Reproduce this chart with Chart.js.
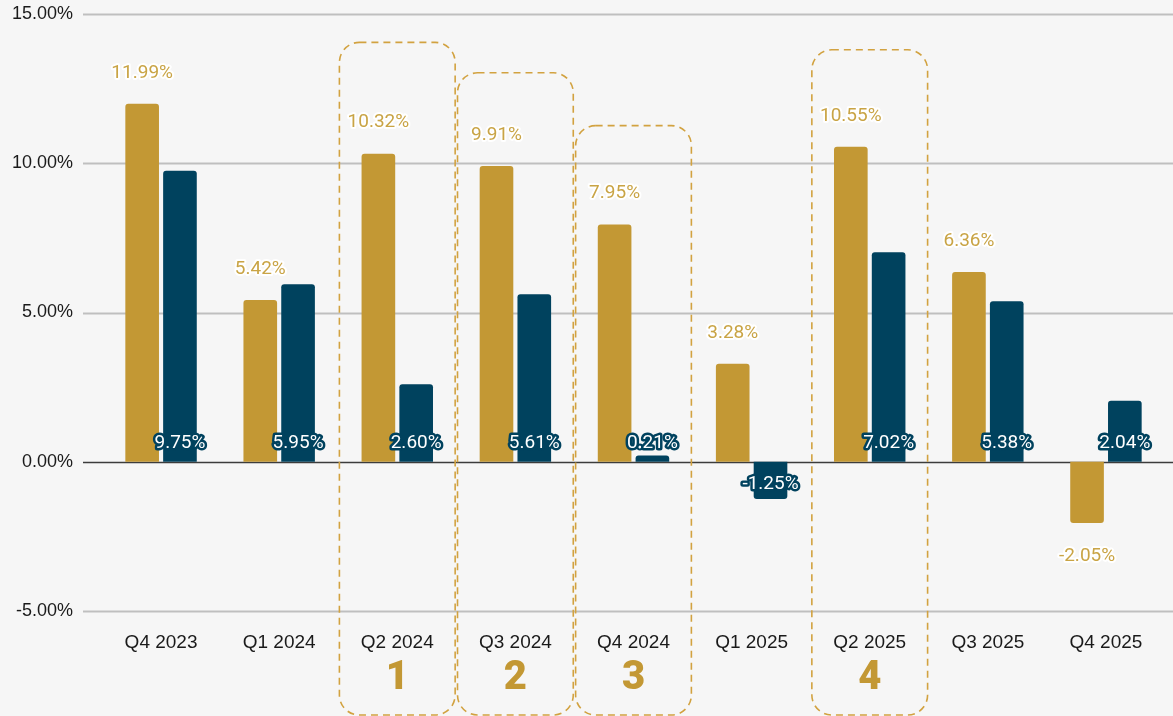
<!DOCTYPE html>
<html>
<head>
<meta charset="utf-8">
<script src="https://cdn.jsdelivr.net/npm/chart.js@4.4.1/dist/chart.umd.min.js"></script>
<style>
  html, body { margin: 0; padding: 0; background: #f6f6f6; }
  #wrap { width: 1173px; height: 716px; }
</style>
</head>
<body>
<div id="wrap"><canvas id="chart" width="1173" height="716"></canvas></div>
<script>
// Data
const quarters = ['Q4 2023', 'Q1 2024', 'Q2 2024', 'Q3 2024', 'Q4 2024', 'Q1 2025', 'Q2 2025', 'Q3 2025', 'Q4 2025'];
const goldValues = [11.99, 5.42, 10.32, 9.91, 7.95, 3.28, 10.55, 6.36, -2.05];
const navyValues = [9.75, 5.95, 2.60, 5.61, 0.21, -1.25, 7.02, 5.38, 2.04];
const yTicks = [-5, 0, 5, 10, 15];

// highlighted quarters: index, number shown, top of dashed box (in % on the y scale)
const highlightIndex = [2, 3, 4, 6];
const highlightNumber = ['1', '2', '3', '4'];
const highlightTop = [14.05, 13.03, 11.26, 13.8];

const GOLD = '#c39834';
const NAVY = '#00425e';
const BOX = '#d2a240';

// background, gridlines and dashed boxes under the bars
const backdrop = {
    id: 'backdrop',
    beforeDraw(chart) {
        const ctx = chart.ctx;
        ctx.save();
        ctx.fillStyle = '#f6f6f6';
        ctx.fillRect(0, 0, chart.width, chart.height);
        ctx.restore();
    },
    beforeDatasetsDraw(chart) {
        const ctx = chart.ctx;
        const y = chart.scales.y;
        const x = chart.scales.x;
        ctx.save();
        yTicks.forEach(t => {
            const py = Math.round(y.getPixelForValue(t)) + 0.5;
            ctx.beginPath();
            ctx.moveTo(83, py);
            ctx.lineTo(chart.width, py);
            ctx.strokeStyle = t === 0 ? '#3c3c3c' : '#bfbfbf';
            ctx.lineWidth = t === 0 ? 1.5 : 2;
            ctx.stroke();
        });

        // dashed rounded boxes
        const catW = (x.right - x.left) / quarters.length;
        ctx.strokeStyle = BOX;
        ctx.lineWidth = 1.6;
        ctx.setLineDash([7, 5]);
        highlightIndex.forEach((idx, i) => {
            const cx = x.getPixelForValue(idx);
            const w = catW * 0.98;
            const top = y.getPixelForValue(highlightTop[i]);
            const bottom = chart.height - 1;
            ctx.beginPath();
            ctx.roundRect(cx - w / 2, top, w, bottom - top, 20);
            ctx.stroke();
        });
        ctx.restore();
    },
    afterDraw(chart) {
        const ctx = chart.ctx;
        const x = chart.scales.x;
        const y = chart.scales.y;
        ctx.save();
        ctx.textAlign = 'center';
        ctx.textBaseline = 'middle';
        ctx.lineJoin = 'round';

        // gold labels beyond the bar end
        const goldMeta = chart.getDatasetMeta(0);
        ctx.font = '19px Roboto';
        goldMeta.data.forEach((bar, i) => {
            const v = goldValues[i];
            const ly = v >= 0 ? bar.y - 31 : bar.y + 33;
            const txt = v.toFixed(2) + '%';
            ctx.lineWidth = 4;
            ctx.strokeStyle = '#ffffff';
            ctx.strokeText(txt, bar.x, ly);
            ctx.fillStyle = '#c9a445';
            ctx.fillText(txt, bar.x, ly);
        });

        // navy labels near the baseline
        const navyMeta = chart.getDatasetMeta(1);
        const zero = y.getPixelForValue(0);
        navyMeta.data.forEach((bar, i) => {
            const v = navyValues[i];
            const ly = v >= 0 ? zero - 19 : zero + 22;
            const txt = v.toFixed(2) + '%';
            ctx.lineWidth = 5;
            ctx.strokeStyle = NAVY;
            ctx.strokeText(txt, bar.x, ly);
            ctx.fillStyle = '#ffffff';
            ctx.fillText(txt, bar.x, ly);
        });

        // big numbers under the highlighted quarters
        ctx.font = '900 40px Roboto';
        ctx.fillStyle = GOLD;
        highlightIndex.forEach((idx, i) => {
            ctx.fillText(highlightNumber[i], x.getPixelForValue(idx), 679);
        });
        ctx.restore();
    }
};

const ctx = document.getElementById('chart').getContext('2d');
const chart = new Chart(ctx, {
    type: 'bar',
    data: {
        labels: quarters,
        datasets: [
            {
                label: 'Gold',
                data: goldValues,
                backgroundColor: GOLD,
                borderRadius: 3,
                categoryPercentage: 0.64,
                barPercentage: 0.89
            },
            {
                label: 'Navy',
                data: navyValues,
                backgroundColor: NAVY,
                borderRadius: 3,
                categoryPercentage: 0.64,
                barPercentage: 0.89
            }
        ]
    },
    options: {
        responsive: false,
        animation: false,
        layout: { padding: { top: 14, right: 8, bottom: 0, left: 2 } },
        plugins: {
            legend: { display: false },
            tooltip: { enabled: false }
        },
        scales: {
            x: {
                grid: { display: false },
                border: { display: false },
                ticks: {
                    color: '#1a1a1a',
                    font: { family: 'Liberation Sans', size: 19 },
                    padding: 12,
                    maxRotation: 0
                },
                afterFit(scale) { scale.height = 105; }
            },
            y: {
                min: -5,
                max: 15,
                grid: { display: false },
                border: { display: false },
                afterBuildTicks(scale) {
                    scale.ticks = yTicks.map(v => ({ value: v }));
                },
                ticks: {
                    color: '#1a1a1a',
                    font: { family: 'Liberation Sans', size: 18 },
                    padding: 21,
                    callback: v => v.toFixed(2) + '%'
                },
                afterFit(scale) {
                    scale.width = 100;
                    scale.paddingTop = 0;
                    scale.paddingBottom = 0;
                }
            }
        }
    },
    plugins: [backdrop]
});
</script>
</body>
</html>
